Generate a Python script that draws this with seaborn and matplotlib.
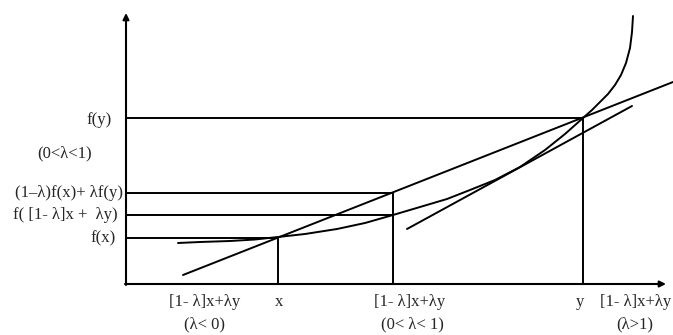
import matplotlib
matplotlib.use('Agg')
import matplotlib.pyplot as plt
import numpy as np
import pandas as pd
import seaborn as sns

# convex curve (x to the right, y downwards as on the page)
curve_x = [178, 200, 230, 255, 278, 305, 337, 365, 393, 420, 447, 470, 495, 520, 545, 565,
           583, 592, 600, 608, 615, 621, 626, 630, 632, 633]
curve_y = [243, 242, 241, 239.5, 237, 234, 229, 223, 215, 207, 199, 190, 180, 167, 150, 134,
           118, 110, 102, 94, 85, 75, 63, 48, 32, 16]

# chord through (x, f(x)) and (y, f(y)), and the tangent-ish line
chord_x = [183, 673]
chord_y = [275, 82]
tangent_x = [407, 632]
tangent_y = [229, 106]

# guide lines: horizontal levels and vertical drops
level_y = [118, 193, 215, 238]
level_end = [583, 393, 393, 278]
drop_x = [278, 393, 583]
drop_top = [237, 193, 118]

left_labels = ['f(y)', '(1–λ)f(x)+ λf(y)', 'f( [1- λ]x +  λy)', 'f(x)']
left_label_y = [120, 193, 215, 238]
left_label_x = [112, 123, 118, 116]
note_label = '(0<λ<1)'

bottom_top = ['[1- λ]x+λy', 'x', '[1- λ]x+λy', 'y', '[1- λ]x+λy']
bottom_top_x = [205, 279, 410, 580, 600]
bottom_sub = ['(λ< 0)', '(0< λ< 1)', '(λ>1)']
bottom_sub_x = [205, 412, 635]

axis_x0, axis_y0 = 126, 284

sns.set_style('white')
plt.rcParams['font.family'] = ['Liberation Serif', 'DejaVu Serif']

fig = plt.figure(figsize=(6.73, 3.35), dpi=100)
ax = fig.add_axes([0, 0, 1, 1])
ax.set_xlim(0, 673)
ax.set_ylim(335, 0)
ax.set_axis_off()

lw = 1.4
curve = pd.DataFrame({'x': curve_x, 'y': curve_y})
sns.lineplot(data=curve, x='x', y='y', sort=False, color='black', linewidth=lw, ax=ax)
sns.lineplot(x=chord_x, y=chord_y, color='black', linewidth=lw, ax=ax)
sns.lineplot(x=tangent_x, y=tangent_y, color='black', linewidth=lw, ax=ax)

ax.hlines(level_y, axis_x0, level_end, color='black', linewidth=lw)
ax.vlines(drop_x, drop_top, axis_y0, color='black', linewidth=lw)

# axes with arrows
arrow = dict(arrowstyle='-|>', color='black', lw=1.5, mutation_scale=9, shrinkA=0, shrinkB=0)
ax.annotate('', xy=(axis_x0, 13), xytext=(axis_x0, axis_y0 + 1), arrowprops=arrow)
ax.annotate('', xy=(666, axis_y0), xytext=(axis_x0 - 1, axis_y0), arrowprops=arrow)

fs = 12
for lab, lx, ly in zip(left_labels, left_label_x, left_label_y):
    ax.text(lx, ly, lab, ha='right', va='center', fontsize=fs)
ax.text(65, 153, note_label, ha='center', va='center', fontsize=fs)

for i, (lab, lx) in enumerate(zip(bottom_top, bottom_top_x)):
    ax.text(lx, 302, lab, ha='left' if i == 4 else 'center', va='center', fontsize=fs)
for lab, lx in zip(bottom_sub, bottom_sub_x):
    ax.text(lx, 324, lab, ha='center', va='center', fontsize=fs)

fig.savefig('out.png', dpi=100)
